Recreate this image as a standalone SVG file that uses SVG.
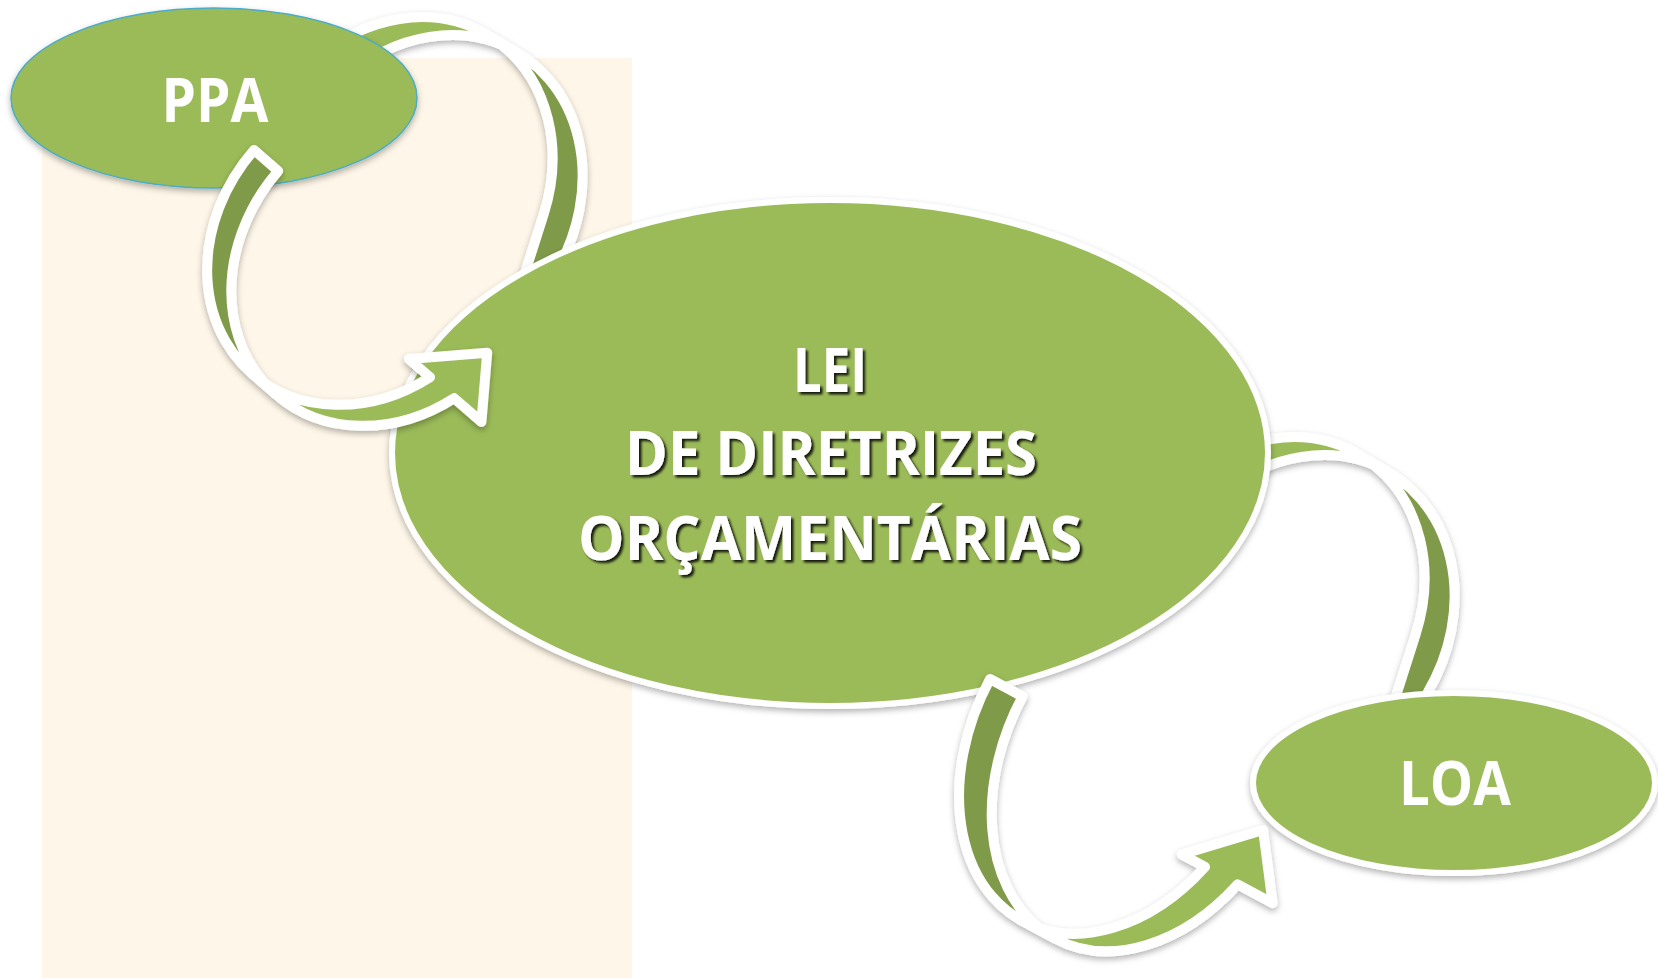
<svg xmlns="http://www.w3.org/2000/svg" width="1658" height="978" viewBox="0 0 1658 978">
<defs>
<style>
.arr path{stroke:#fff;stroke-width:10;stroke-linejoin:round}
.lt{fill:#9BBB59}
.dk{fill:#7F9A48}
.node{fill:#9BBB59;filter:url(#sh)}
.txt{font-family:'Open Sans','Liberation Sans',sans-serif;font-weight:700;font-size:60px;fill:#fff;text-anchor:middle}
.tsh{filter:url(#tsh)}
</style>
<filter id="sh" x="-20%" y="-20%" width="140%" height="140%">
<feDropShadow dx="0" dy="3" stdDeviation="3" flood-color="#000" flood-opacity="0.3"/>
</filter>
<filter id="tsh" x="-10%" y="-20%" width="120%" height="150%">
<feDropShadow dx="2.5" dy="2.5" stdDeviation="1" flood-color="#000" flood-opacity="0.85"/>
</filter>
</defs>
<rect x="42" y="58" width="590" height="920" fill="#FEF6E8"/>
<g id="connectors-back">
<g id="arrow-ldo-ppa" class="arr" filter="url(#sh)">
<g transform="translate(555.2,273.2) rotate(120.8)">
<path class="dk" d="M-168.8,162.5 A170,145 0 0 1 0,0 L40,0 L40.6,20.2 L-44.8,40.1 A170,145 0 0 0 -168.8,162.5 Z"/>
<path class="lt" d="M-170,145 A170,145 0 0 0 -56,281.9 L-56,254 L0,309 L-56,350 L-56,316.9 A170,145 0 0 1 -170,180 Z"/>
</g>
</g>
<g id="arrow-loa-ldo" class="arr" filter="url(#sh)">
<g transform="translate(1427.2,693.2) rotate(120.8)">
<path class="dk" d="M-168.8,162.5 A170,145 0 0 1 0,0 L40,0 L40.6,20.2 L-44.8,40.1 A170,145 0 0 0 -168.8,162.5 Z"/>
<path class="lt" d="M-170,145 A170,145 0 0 0 -56,281.9 L-56,254 L0,309 L-56,350 L-56,316.9 A170,145 0 0 1 -170,180 Z"/>
</g>
</g>
</g>
<g id="node-ppa">
<ellipse class="node" cx="214" cy="98" rx="203" ry="90" stroke="#4BACC6" stroke-width="1.5"/>
<text class="txt" x="215" y="122" textLength="107" lengthAdjust="spacingAndGlyphs">PPA</text>
</g>
<g id="node-ldo">
<ellipse class="node" cx="830" cy="453" rx="438" ry="253" stroke="#fff" stroke-width="6"/>
<g class="tsh">
<text class="txt" x="830" y="392" textLength="74" lengthAdjust="spacingAndGlyphs">LEI</text>
<text class="txt" x="831" y="475" textLength="412" lengthAdjust="spacingAndGlyphs">DE DIRETRIZES</text>
<text class="txt" x="830" y="560" textLength="504" lengthAdjust="spacingAndGlyphs">ORÇAMENTÁRIAS</text>
</g>
</g>
<g id="node-loa">
<ellipse class="node" cx="1454" cy="783" rx="201" ry="90" stroke="#fff" stroke-width="6"/>
<text class="txt" x="1455" y="805" textLength="112" lengthAdjust="spacingAndGlyphs">LOA</text>
</g>
<g id="connectors-front">
<g id="arrow-ppa-ldo" class="arr" filter="url(#sh)">
<g transform="translate(254,150) rotate(-49)">
<path class="dk" d="M0,32 A170,145 0 0 0 -169,161 A170,145 0 0 1 0,0 Z"/>
<path class="lt" d="M-170,145 A170,145 0 0 0 -56,281.9 L-56,254 L0,309 L-56,350 L-56,313.9 A170,145 0 0 1 -170,177 Z"/>
</g>
</g>
<g id="arrow-ldo-loa" class="arr" filter="url(#sh)">
<g transform="translate(990,679) rotate(-61.8)">
<path class="dk" d="M0,37 A198,143 0 0 0 -196.3,161.5 A198,143 0 0 1 0,0 Z"/>
<path class="lt" d="M-198,143 A198,143 0 0 0 -64,278.3 L-64,252 L-4,312 L-64,355 L-64,315.3 A198,143 0 0 1 -198,180 Z"/>
</g>
</g>
</g>
</svg>
